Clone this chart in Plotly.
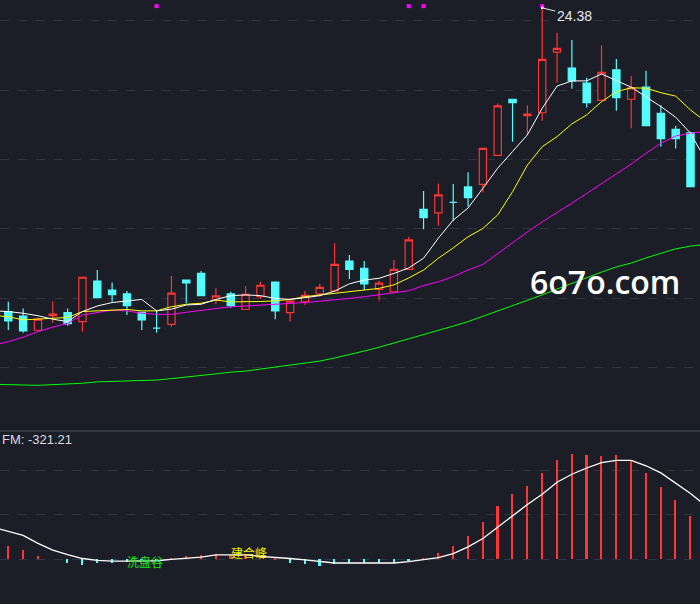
import plotly.graph_objects as go

# candles (index positions on the x axis)
idx = list(range(47))
opens = [15.61, 15.48, 15.07, 15.49, 15.58, 15.32, 16.49, 16.23, 16.12, 15.59,
         15.13, 15.24, 16.52, 16.71, 15.94, 16.12, 15.67, 16.04, 16.46, 15.58,
         15.89, 16.12, 16.21, 17.07, 16.86, 16.25, 16.18, 16.83, 18.56, 18.46,
         18.76, 19.21, 19.28, 20.12, 21.74, 21.27, 21.35, 23.10, 22.64, 22.21,
         21.71, 22.59, 21.74, 22.09, 21.33, 20.87, 20.77]
highs = [15.89, 15.70, 15.44, 15.91, 15.70, 16.60, 16.81, 16.45, 16.20, 15.59,
         15.65, 16.64, 16.52, 16.78, 16.28, 16.18, 16.35, 16.47, 16.46, 15.99,
         16.20, 16.41, 17.58, 17.24, 17.07, 16.50, 17.10, 17.77, 19.09, 19.31,
         19.29, 19.63, 20.32, 21.62, 21.74, 21.57, 24.38, 23.66, 23.45, 22.36,
         23.31, 22.90, 22.41, 22.56, 21.57, 20.97, 20.80]
lows = [15.08, 15.00, 15.07, 15.29, 15.20, 15.03, 16.01, 15.89, 15.51, 15.08,
        15.00, 15.17, 15.85, 16.07, 15.82, 15.72, 15.67, 15.97, 15.39, 15.32,
        15.80, 16.04, 16.21, 16.55, 16.23, 15.92, 16.18, 16.83, 17.99, 18.09,
        18.23, 18.64, 19.05, 20.12, 20.51, 20.71, 21.12, 22.22, 22.04, 21.50,
        21.71, 21.41, 20.90, 20.98, 20.37, 20.32, 19.22]
closes = [15.34, 15.05, 15.39, 15.54, 15.26, 16.60, 16.01, 16.10, 15.78, 15.37,
          15.13, 16.14, 16.44, 16.07, 16.06, 15.78, 16.11, 16.37, 15.63, 15.91,
          16.08, 16.31, 16.97, 16.83, 16.41, 16.43, 16.83, 17.68, 18.32, 18.98,
          18.76, 18.90, 20.32, 21.55, 21.64, 21.31, 22.89, 23.21, 22.27, 21.64,
          22.52, 21.79, 22.07, 20.98, 20.60, 20.60, 19.22]

# moving average lines, one point before and after the candles
ma_idx = list(range(-1, 48))
ma_white = [15.63, 15.61, 15.56, 15.49, 15.39, 15.32, 15.61, 15.77, 15.87, 15.92,
            15.96, 15.63, 15.68, 15.80, 15.82, 15.96, 16.07, 16.09, 16.07, 15.99,
            15.96, 16.01, 16.07, 16.20, 16.41, 16.52, 16.57, 16.71, 16.87, 17.15,
            17.73, 18.25, 18.60, 19.17, 19.75, 20.23, 20.71, 21.48, 22.12, 22.27,
            22.27, 22.47, 22.27, 22.09, 21.81, 21.53, 21.22, 20.76, 20.00]
ma_yellow = [15.50, 15.46, 15.37, 15.39, 15.41, 15.44, 15.61, 15.63, 15.67, 15.67,
             15.63, 15.63, 15.75, 15.82, 15.85, 15.94, 15.89, 15.89, 15.90, 15.92,
             15.96, 16.04, 16.09, 16.15, 16.18, 16.23, 16.28, 16.38, 16.58, 16.81,
             17.15, 17.45, 17.77, 18.01, 18.40, 19.07, 19.84, 20.37, 20.66, 21.03,
             21.29, 21.67, 21.96, 22.07, 22.06, 21.93, 21.83, 21.43, 21.10]
ma_magenta = [14.64, 14.74, 14.87, 15.03, 15.16, 15.27, 15.51, 15.59, 15.65, 15.63,
              15.56, 15.53, 15.53, 15.59, 15.65, 15.70, 15.75, 15.77, 15.79, 15.81,
              15.83, 15.87, 15.91, 15.94, 15.99, 16.04, 16.09, 16.14, 16.21, 16.36,
              16.47, 16.62, 16.81, 16.97, 17.29, 17.59, 17.91, 18.20, 18.46, 18.74,
              19.02, 19.30, 19.60, 19.87, 20.18, 20.47, 20.68, 20.76, 20.81]
ma_green = [13.51, 13.51, 13.49, 13.48, 13.50, 13.51, 13.54, 13.58, 13.60, 13.61,
            13.62, 13.63, 13.67, 13.71, 13.77, 13.81, 13.86, 13.89, 13.95, 14.01,
            14.07, 14.12, 14.18, 14.27, 14.36, 14.47, 14.58, 14.70, 14.82, 14.93,
            15.05, 15.19, 15.32, 15.47, 15.63, 15.78, 15.94, 16.09, 16.26, 16.43,
            16.58, 16.75, 16.90, 17.01, 17.16, 17.29, 17.42, 17.50, 17.55]

# signal markers at the top of the price panel
signal_idx = [10, 27, 28, 36]

# lower indicator panel
fm_bars = [31, 21, 7, 0, -9, -13, -9, -8, -6, -4,
           -2, 3, 8, 10, 13, 10, 13, 9, 1, -7,
           -11, -14, -11, -9, -7, -7, -7, -2, 4, 15,
           30, 52, 84, 120, 146, 164, 194, 223, 236, 234,
           232, 234, 221, 194, 162, 133, 98]
fm_line = [72, 63, 54, 36, 21, 11, 2, -2, -4, -4,
           -4, -3, 0, 3, 5, 10, 10, 10, 7, 5,
           2, -1, -5, -8, -8, -8, -8, -8, -5, -1,
           4, 13, 28, 47, 73, 99, 123, 146, 173, 191,
           205, 217, 222, 222, 210, 194, 170, 148, 121]

BG = "#1b1e26"
GRID = "#31353f"
RED = "#ff3434"
CYAN = "#54fcfc"

fig = go.Figure()

fig.add_trace(go.Candlestick(
    x=idx, open=opens, high=highs, low=lows, close=closes,
    increasing=dict(line=dict(color=RED, width=1.2), fillcolor=BG),
    decreasing=dict(line=dict(color=CYAN, width=1.2), fillcolor=CYAN),
    whiskerwidth=0, xaxis="x", yaxis="y", hoverinfo="skip",
))

for vals, col in [(ma_green, "#00ff00"), (ma_magenta, "#ff00ff"),
                  (ma_yellow, "#ffff00"), (ma_white, "#ffffff")]:
    fig.add_trace(go.Scatter(x=ma_idx, y=vals, mode="lines",
                             line=dict(color=col, width=1),
                             xaxis="x", yaxis="y", hoverinfo="skip"))

fig.add_trace(go.Scatter(
    x=signal_idx, y=[24.43] * len(signal_idx), mode="markers",
    marker=dict(symbol="square", size=4, color="#ff00ff"),
    xaxis="x", yaxis="y", hoverinfo="skip",
))

bar_colors = [RED if v > 0 else CYAN for v in fm_bars]
fig.add_trace(go.Bar(x=idx, y=fm_bars, width=0.11, marker_color=bar_colors,
                     marker_line_width=0, xaxis="x2", yaxis="y2", hoverinfo="skip"))
fig.add_trace(go.Scatter(x=ma_idx, y=fm_line, mode="lines",
                         line=dict(color="#ffffff", width=1.3),
                         xaxis="x2", yaxis="y2", hoverinfo="skip"))

xr = [-0.56, 46.64]
split = 1 - 431 / 604

fig.update_layout(
    width=700, height=604,
    margin=dict(l=0, r=0, t=0, b=0),
    paper_bgcolor=BG, plot_bgcolor=BG,
    showlegend=False,
    bargap=0,
    xaxis=dict(range=xr, domain=[0, 1], anchor="y", visible=False,
               rangeslider=dict(visible=False)),
    xaxis2=dict(range=xr, domain=[0, 1], anchor="y2", visible=False, matches="x"),
    yaxis=dict(range=[12.19, 24.606], domain=[1 - 430 / 604, 1],
               showgrid=True, gridcolor=GRID, griddash="dash", gridwidth=1,
               tick0=0, dtick=2, zeroline=False, showticklabels=False, ticks=""),
    yaxis2=dict(range=[-100, 288], domain=[0, split],
                showgrid=True, gridcolor=GRID, griddash="dash", gridwidth=1,
                tick0=0, dtick=100, zeroline=False, showticklabels=False, ticks=""),
    shapes=[dict(type="line", xref="paper", yref="paper", x0=0, x1=1,
                 y0=split, y1=split, line=dict(color="#3b404b", width=1.5))],
)

fig.add_annotation(x=36, y=24.38, xref="x", yref="y", text="24.38",
                   showarrow=True, arrowhead=7, arrowsize=0.6, arrowwidth=1,
                   arrowcolor="#e8e8e8", ax=32, ay=8, xanchor="center",
                   font=dict(family="Liberation Sans", size=14, color="#e4e8f0"))

fig.add_annotation(x=0, y=1 - 439 / 604, xref="paper", yref="paper",
                   text="FM: -321.21", showarrow=False, xanchor="left",
                   yanchor="middle",
                   font=dict(family="Liberation Sans", size=13, color="#d8dce4"))

fig.add_annotation(x=9.2, y=-4, xref="x2", yref="y2", text="洗盘谷",
                   showarrow=False,
                   font=dict(family="Noto Sans CJK SC", size=12, color="#19e619"))
fig.add_annotation(x=16.2, y=16, xref="x2", yref="y2", text="建合峰",
                   showarrow=False,
                   font=dict(family="Noto Sans CJK SC", size=12, color="#f0f000"))

fig.add_annotation(x=605 / 700, y=1 - 281 / 604, xref="paper", yref="paper",
                   text="6o7o.com", showarrow=False,
                   xanchor="center", yanchor="middle",
                   font=dict(family="Open Sans", size=32, color="#ffffff", weight=600))

# the page body has a default 8px margin; drop it so the chart fills the window
fig.write_html("out.html", config={"displayModeBar": False},
               post_script="document.body.style.margin='0';document.body.style.overflow='hidden';")
